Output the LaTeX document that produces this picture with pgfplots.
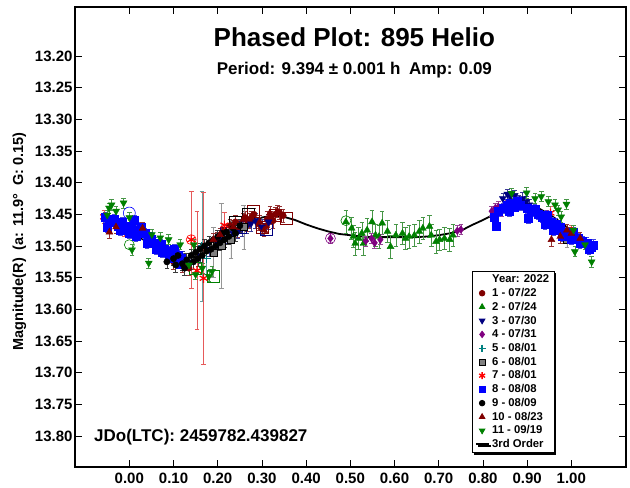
\documentclass[border=0pt]{standalone}
\usepackage{pgfplots}
\pgfplotsset{compat=1.18}
\usepackage{fontspec}
\setmainfont{Liberation Sans}
\usetikzlibrary{shadows}
\definecolor{cmaroon}{RGB}{128,0,0}
\definecolor{cgreen}{RGB}{0,128,0}
\definecolor{cnavy}{RGB}{0,0,128}
\definecolor{cpurple}{RGB}{128,0,128}
\definecolor{cteal}{RGB}{0,128,128}
\definecolor{cgray}{RGB}{128,128,128}
\definecolor{cred}{RGB}{255,0,0}
\definecolor{cblue}{RGB}{0,0,255}
\definecolor{emaroon}{RGB}{150,50,50}
\definecolor{egreen}{RGB}{70,150,70}
\definecolor{enavy}{RGB}{60,60,150}
\definecolor{epurple}{RGB}{150,70,150}
\definecolor{eteal}{RGB}{100,160,160}
\definecolor{egray}{RGB}{150,150,150}
\definecolor{ered}{RGB}{230,90,90}
\definecolor{eblue}{RGB}{70,70,220}
\definecolor{eblack}{RGB}{60,60,60}
\pgfplotsset{
  ebar/.style={error bars/.cd, y dir=both, y explicit,
    error bar style={line width=0.6pt,color=#1},
    error mark options={line width=0.6pt, mark size=2.3pt, color=#1, rotate=90}},
  legmark/.style={only marks, legend image code/.code={\draw[mark repeat=2,mark phase=2,##1] plot coordinates {(0pt,0pt) (5pt,0pt) (10pt,0pt)};}},
  legline/.style={legend image code/.code={\draw[##1] (-1pt,0pt) -- (12pt,0pt);}},
}
\begin{document}
\begin{tikzpicture}
\begin{axis}[name=ax, scale only axis, width=551pt, height=460pt,
  xmin=-0.1229, xmax=1.1237, ymin=13.1226, ymax=13.849, y dir=reverse,
  xtick={0,0.1,0.2,0.3,0.4,0.5,0.6,0.7,0.8,0.9,1.0},
  ytick={13.20,13.25,13.30,13.35,13.40,13.45,13.50,13.55,13.60,13.65,13.70,13.75,13.80},
  tick align=inside, major tick length=7pt,
  every tick/.style={black, line width=0.8pt},
  axis line style={line width=1.2pt},
  /pgf/number format/assume math mode=true,
  xticklabel style={yshift=-2pt, /pgf/number format/.cd, fixed, fixed zerofill, precision=2},
  yticklabel style={xshift=1pt, /pgf/number format/.cd, fixed, fixed zerofill, precision=2},
  tick label style={font=\bfseries\fontsize{15}{17}\selectfont},
  ylabel={Magnitude(R)\hspace{0.55em}(a: 11.9°\hspace{0.55em}G: 0.15)},
  ylabel style={at={(axis description cs:-0.101,0.49)}, anchor=center, font=\bfseries\fontsize{14.5}{16}\selectfont},
  legend style={at={(axis description cs:0.7200,0.426)}, anchor=north west, draw=black, line width=0.8pt, fill=white,
    font=\bfseries\fontsize{11.3}{13}\selectfont, inner xsep=3pt, inner ysep=1.5pt, row sep=0.05pt,
    drop shadow={shadow xshift=2pt, shadow yshift=-2pt, fill=black, opacity=1}},
  legend cell align=left,
]
% 3rd order fit
\addplot[black, line width=1.8pt, forget plot] table {
x y
-0.050 13.450
-0.025 13.462
0.000 13.476
0.025 13.487
0.050 13.498
0.075 13.508
0.100 13.515
0.125 13.519
0.150 13.517
0.175 13.510
0.200 13.498
0.225 13.485
0.250 13.472
0.275 13.462
0.300 13.455
0.325 13.452
0.350 13.454
0.375 13.459
0.400 13.466
0.425 13.472
0.450 13.477
0.475 13.481
0.500 13.483
0.525 13.485
0.550 13.486
0.575 13.486
0.600 13.486
0.625 13.486
0.650 13.486
0.675 13.485
0.700 13.483
0.725 13.480
0.750 13.476
0.775 13.467
0.800 13.459
0.825 13.450
0.850 13.442
0.875 13.437
0.900 13.436
0.925 13.440
0.950 13.450
0.975 13.462
1.000 13.476
1.025 13.487
1.050 13.498
};
% open marks
\addplot[only marks, mark=o, mark size=6pt, mark options={line width=0.6pt}, draw=cblue, forget plot] coordinates {(0.0,13.448)};
\addplot[only marks, mark=o, mark size=5pt, mark options={line width=0.6pt}, draw=cgreen, forget plot] coordinates {(0.0,13.498) (0.49,13.460)};
\addplot[only marks, mark=o, mark size=5pt, mark options={line width=0.6pt}, draw=cpurple, forget plot] coordinates {(0.455,13.488)};
\addplot[only marks, mark=o, mark size=5pt, mark options={line width=0.6pt}, draw=cred, forget plot] coordinates {(0.140,13.490)};
\addplot[only marks, mark=square, mark size=6pt, mark options={line width=0.6pt}, draw=cgreen, forget plot] coordinates {(0.150,13.535) (0.190,13.548)};
\addplot[only marks, mark=square, mark size=6pt, mark options={line width=0.6pt}, draw=cmaroon, forget plot] coordinates {(0.330,13.452) (0.355,13.456) (0.280,13.445) (0.30,13.470)};
\addplot[only marks, mark=square, mark size=6pt, mark options={line width=0.6pt}, draw=cnavy, forget plot] coordinates {(0.250,13.470) (0.22,13.480) (0.31,13.474)};
\addplot[only marks, mark=square, mark size=6pt, mark options={line width=0.6pt}, draw=black, forget plot] coordinates {(0.270,13.450) (0.24,13.462)};
% 1 - 07/22 maroon circles
\addplot[only marks, mark=*, mark size=3.2pt, color=cmaroon, forget plot, ebar=emaroon] table[y error=e] {
x y e
0.100 13.525 0.012
0.120 13.530 0.012
0.135 13.535 0.012
0.200 13.490 0.012
0.215 13.475 0.010
0.228 13.468 0.010
0.240 13.462 0.011
0.245 13.475 0.012
0.252 13.470 0.010
0.262 13.455 0.010
0.268 13.465 0.012
0.272 13.460 0.012
0.282 13.450 0.010
0.292 13.465 0.010
0.300 13.472 0.011
0.310 13.468 0.010
0.312 13.458 0.012
0.320 13.455 0.010
0.325 13.460 0.012
0.330 13.450 0.011
0.340 13.448 0.010
0.348 13.452 0.010
};
% 2 - 07/24 green up triangles
\addplot[only marks, mark=triangle*, mark size=4pt, color=cgreen, forget plot, ebar=egreen] table[y error=e] {
x y e
0.490 13.462 0.018
0.503 13.472 0.018
0.507 13.485 0.017
0.511 13.496 0.018
0.519 13.488 0.018
0.526 13.480 0.017
0.530 13.496 0.018
0.538 13.475 0.018
0.549 13.462 0.018
0.557 13.483 0.017
0.565 13.485 0.018
0.572 13.464 0.018
0.584 13.477 0.017
0.591 13.501 0.018
0.603 13.483 0.018
0.618 13.480 0.017
0.625 13.488 0.018
0.633 13.485 0.018
0.645 13.483 0.017
0.656 13.477 0.018
0.664 13.472 0.018
0.679 13.469 0.017
0.683 13.483 0.018
0.694 13.493 0.018
0.702 13.490 0.017
0.713 13.488 0.018
0.725 13.490 0.018
0.732 13.483 0.017
};
% 3 - 07/30 navy down triangles
\addplot[only marks, mark=triangle*, mark size=4pt, mark options={rotate=180}, color=cnavy, forget plot, ebar=enavy] table[y error=e] {
x y e
0.845 13.425 0.008
0.855 13.418 0.008
0.862 13.422 0.009
0.872 13.420 0.008
0.880 13.428 0.008
0.890 13.425 0.009
0.898 13.430 0.008
0.905 13.435 0.008
0.120 13.520 0.012
0.140 13.525 0.012
0.160 13.515 0.012
0.180 13.505 0.012
0.200 13.495 0.010
0.210 13.490 0.012
0.225 13.485 0.010
0.235 13.480 0.012
0.245 13.478 0.010
0.255 13.472 0.012
0.265 13.470 0.010
0.275 13.465 0.012
0.285 13.460 0.012
0.300 13.470 0.012
0.315 13.462 0.012
};
% 4 - 07/31 purple diamonds
\addplot[only marks, mark=diamond*, mark size=3.8pt, color=cpurple, forget plot, ebar=epurple] table[y error=e] {
x y e
0.455 13.488 0.008
0.535 13.492 0.008
0.548 13.488 0.008
0.555 13.495 0.008
0.568 13.490 0.008
0.742 13.476 0.008
0.750 13.474 0.008
0.820 13.445 0.008
0.828 13.440 0.008
0.835 13.438 0.008
0.842 13.445 0.008
0.850 13.435 0.008
};
% 5 - 08/01 teal plus
\addplot[only marks, mark=+, mark size=4pt, mark options={line width=1.2pt}, color=cteal, forget plot, ebar=eteal] table[y error=e] {
x y e
0.164 13.500 0.087
0.175 13.520 0.025
};
% 6 - 08/01 gray squares
\addplot[only marks, mark=square*, mark size=3.5pt, draw=black, fill=cgray, forget plot, ebar=egray] table[y error=e] {
x y e
0.190 13.510 0.040
0.208 13.500 0.067
0.230 13.490 0.030
0.259 13.470 0.035
0.990 13.490 0.012
};
% 7 - 08/01 red asterisks
\addplot[only marks, mark=asterisk, mark size=4.5pt, mark options={line width=1.2pt}, color=cred, forget plot, ebar=ered] table[y error=e] {
x y e
-0.057 13.454 0.010
-0.011 13.475 0.010
0.140 13.490 0.077
0.153 13.539 0.093
0.168 13.551 0.136
0.215 13.467 0.020
0.953 13.448 0.010
1.000 13.477 0.010
};
% 8 - 08/08 blue squares
\addplot[only marks, mark=square*, mark size=4pt, color=cblue, forget plot, ebar=eblue] table[y error=e] {
x y e
-0.055 13.455 0.008
-0.050 13.470 0.008
-0.045 13.462 0.008
-0.035 13.458 0.008
-0.025 13.468 0.008
-0.020 13.475 0.008
-0.015 13.462 0.008
-0.005 13.472 0.008
0.000 13.480 0.008
0.005 13.468 0.008
0.012 13.460 0.008
0.015 13.485 0.008
0.020 13.475 0.008
0.025 13.478 0.008
0.028 13.470 0.008
0.035 13.480 0.008
0.040 13.495 0.008
0.042 13.485 0.008
0.050 13.490 0.008
0.058 13.495 0.008
0.060 13.505 0.008
0.065 13.500 0.008
0.072 13.497 0.008
0.075 13.510 0.008
0.080 13.505 0.008
0.088 13.508 0.008
0.090 13.518 0.008
0.095 13.512 0.008
0.100 13.520 0.008
0.102 13.505 0.008
0.108 13.525 0.008
0.110 13.515 0.008
0.115 13.528 0.008
0.118 13.520 0.008
0.825 13.455 0.008
0.830 13.468 0.008
0.835 13.445 0.008
0.845 13.440 0.008
0.855 13.435 0.008
0.860 13.445 0.008
0.862 13.432 0.008
0.870 13.438 0.008
0.878 13.430 0.008
0.885 13.436 0.008
0.900 13.440 0.008
0.903 13.456 0.008
0.910 13.445 0.008
0.918 13.442 0.008
0.925 13.450 0.008
0.935 13.455 0.008
0.940 13.465 0.008
0.945 13.452 0.008
0.955 13.462 0.008
0.960 13.475 0.008
0.965 13.465 0.008
0.975 13.470 0.008
0.980 13.485 0.008
0.985 13.478 0.008
0.995 13.482 0.008
1.000 13.490 0.008
1.005 13.478 0.008
1.015 13.488 0.008
1.020 13.495 0.008
1.025 13.492 0.008
1.035 13.495 0.008
1.040 13.505 0.008
1.045 13.502 0.008
1.050 13.498 0.008
};
% 9 - 08/09 black circles
\addplot[only marks, mark=*, mark size=3.2pt, color=black, forget plot, ebar=eblack] table[y error=e] {
x y e
0.085 13.525 0.010
0.100 13.520 0.010
0.105 13.530 0.012
0.110 13.515 0.010
0.120 13.528 0.010
0.125 13.535 0.012
0.130 13.522 0.010
0.140 13.515 0.010
0.145 13.525 0.012
0.150 13.510 0.010
0.155 13.520 0.012
0.160 13.505 0.010
0.165 13.515 0.012
0.170 13.500 0.010
0.175 13.508 0.012
0.180 13.495 0.010
0.185 13.505 0.012
0.190 13.490 0.010
0.195 13.500 0.012
0.200 13.485 0.010
0.205 13.495 0.012
0.210 13.480 0.010
0.215 13.490 0.012
0.220 13.478 0.010
0.225 13.485 0.012
0.235 13.472 0.010
0.240 13.480 0.012
0.250 13.468 0.010
};
% 10 - 08/23 maroon up triangles
\addplot[only marks, mark=triangle*, mark size=4pt, color=cmaroon, forget plot, ebar=emaroon] table[y error=e] {
x y e
-0.045 13.478 0.010
-0.030 13.470 0.010
0.030 13.472 0.010
0.190 13.490 0.010
0.205 13.482 0.010
0.235 13.470 0.010
0.258 13.458 0.010
0.275 13.455 0.010
0.295 13.462 0.010
0.305 13.475 0.010
0.318 13.448 0.010
0.335 13.445 0.010
0.955 13.490 0.010
0.975 13.485 0.010
0.990 13.475 0.010
1.000 13.480 0.010
1.020 13.488 0.010
};
% 11 - 09/19 green down triangles
\addplot[only marks, mark=triangle*, mark size=4pt, mark options={rotate=180}, color=cgreen, forget plot, ebar=egreen] table[y error=e] {
x y e
-0.050 13.451 0.008
-0.046 13.440 0.008
-0.040 13.435 0.008
-0.030 13.445 0.008
-0.013 13.432 0.008
0.000 13.455 0.008
0.006 13.506 0.008
0.044 13.527 0.008
0.051 13.482 0.008
0.070 13.487 0.008
0.089 13.490 0.008
0.115 13.498 0.008
0.146 13.498 0.008
0.135 13.530 0.008
0.150 13.545 0.008
0.165 13.535 0.008
0.180 13.548 0.008
0.187 13.540 0.008
0.865 13.417 0.008
0.899 13.416 0.008
0.918 13.425 0.008
0.932 13.422 0.008
0.948 13.430 0.008
0.963 13.435 0.008
0.970 13.443 0.008
0.977 13.454 0.008
0.989 13.434 0.008
1.005 13.475 0.008
1.008 13.509 0.008
1.031 13.498 0.008
1.046 13.525 0.008
};
% legend
\addlegendimage{empty legend}
\addlegendentry{Year: 2022}
\addlegendimage{legmark, mark=*, mark size=2.8pt, color=cmaroon}
\addlegendentry{1 - 07/22}
\addlegendimage{legmark, mark=triangle*, mark size=3.2pt, color=cgreen}
\addlegendentry{2 - 07/24}
\addlegendimage{legmark, mark=triangle*, mark size=3.2pt, mark options={rotate=180}, color=cnavy}
\addlegendentry{3 - 07/30}
\addlegendimage{legmark, mark=diamond*, mark size=3.2pt, color=cpurple}
\addlegendentry{4 - 07/31}
\addlegendimage{legmark, mark=+, mark size=3.5pt, mark options={line width=1.3pt}, color=cteal}
\addlegendentry{5 - 08/01}
\addlegendimage{legmark, mark=square*, mark size=3pt, draw=black, fill=cgray}
\addlegendentry{6 - 08/01}
\addlegendimage{legmark, mark=asterisk, mark size=3.5pt, mark options={line width=1.3pt}, color=cred}
\addlegendentry{7 - 08/01}
\addlegendimage{legmark, mark=square*, mark size=3pt, color=cblue}
\addlegendentry{8 - 08/08}
\addlegendimage{legmark, mark=*, mark size=2.8pt, color=black}
\addlegendentry{9 - 08/09}
\addlegendimage{legmark, mark=triangle*, mark size=3.2pt, color=cmaroon}
\addlegendentry{10 - 08/23}
\addlegendimage{legmark, mark=triangle*, mark size=3.2pt, mark options={rotate=180}, color=cgreen}
\addlegendentry{11 - 09/19}
\addlegendimage{legline, black, line width=2pt}
\addlegendentry{3rd Order}
% texts
\node[font=\bfseries\fontsize{26}{29}\selectfont] at (axis description cs:0.507,0.9348) {Phased Plot: 895 Helio};
\node[font=\bfseries\fontsize{17}{20}\selectfont] at (axis description cs:0.507,0.863) {Period: 9.394 ± 0.001 h\hspace{0.5em}Amp: 0.09};
\node[font=\bfseries\fontsize{17}{20}\selectfont, anchor=west, inner sep=0pt] at (axis description cs:0.0345,0.0652) {JDo(LTC): 2459782.439827};
\end{axis}
\pgfresetboundingbox
\path[use as bounding box] ([shift={(-75pt,-21pt)}]ax.south west) rectangle ([shift={(4pt,7pt)}]ax.north east);
\end{tikzpicture}
\end{document}
